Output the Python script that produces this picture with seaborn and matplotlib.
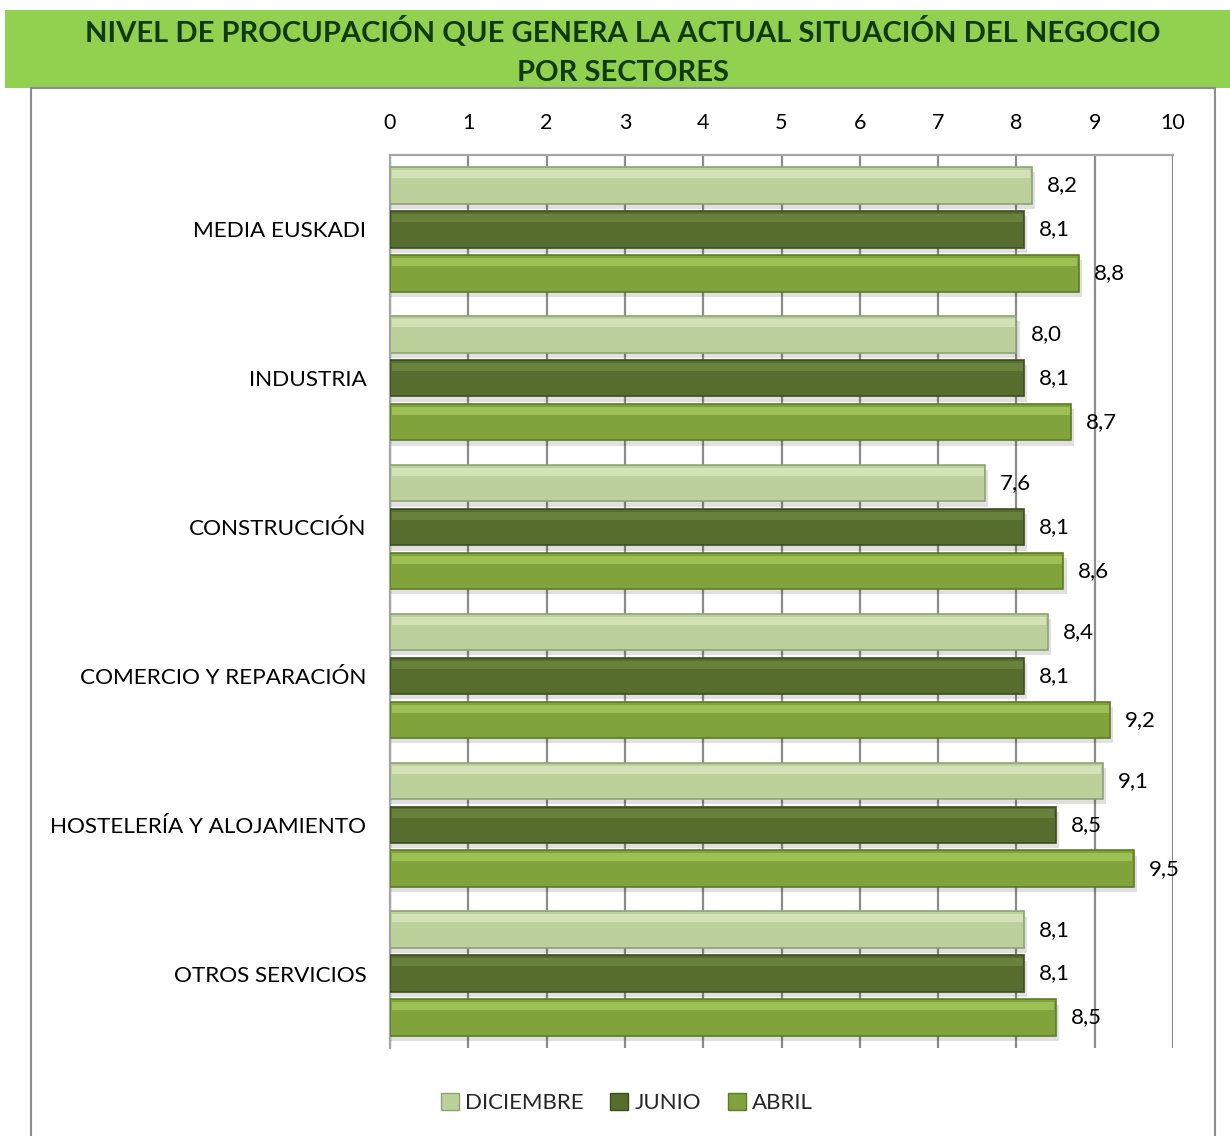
import matplotlib
matplotlib.use("Agg")
import matplotlib.pyplot as plt
import seaborn as sns
import pandas as pd
from matplotlib.patches import Rectangle, Patch

sectores = ["MEDIA EUSKADI", "INDUSTRIA", "CONSTRUCCIÓN", "COMERCIO Y REPARACIÓN",
            "HOSTELERÍA Y ALOJAMIENTO", "OTROS SERVICIOS"]
series = ["DICIEMBRE", "JUNIO", "ABRIL"]
diciembre = [8.2, 8.0, 7.6, 8.4, 9.1, 8.1]
junio = [8.1, 8.1, 8.1, 8.1, 8.5, 8.1]
abril = [8.8, 8.7, 8.6, 9.2, 9.5, 8.5]
colores = ["#BCD09C", "#566D2D", "#80A43B"]
bordes = ["#8FA276", "#3C4E1E", "#5E7C27"]
brillos = ["#E6F2CF", "#7A9448", "#B4D86A"]

rows = []
for s, vals in zip(series, [diciembre, junio, abril]):
    for c, v in zip(sectores, vals):
        rows.append({"sector": c, "serie": s, "valor": v})
df = pd.DataFrame(rows)

sns.set_theme(style="white")
plt.rcParams['font.family'] = ['Lato', 'DejaVu Sans']

W, H = 1230, 1136
fig = plt.figure(figsize=(W / 100, H / 100), dpi=100)
ax = fig.add_axes([390 / W, 1 - 1048 / H, (1173 - 390) / W, (1048 - 155) / H])

sns.barplot(data=df, y="sector", x="valor", hue="serie", order=sectores,
            hue_order=series, palette=colores, orient="h", width=0.886,
            saturation=1, ax=ax, legend=False, zorder=3)

bar_h = 0.245
for cont, edge, hi in zip(ax.containers, bordes, brillos):
    for p in cont.patches:
        cy = p.get_y() + p.get_height() / 2
        p.set_y(cy - bar_h / 2)
        p.set_height(bar_h)
        p.set_edgecolor(edge)
        p.set_linewidth(1.2)
        # bevel highlight
        ax.add_patch(Rectangle((p.get_x() + 0.02, cy - bar_h / 2 + 0.02), p.get_width() - 0.04,
                               bar_h * 0.22, facecolor=hi, alpha=0.55, edgecolor="none",
                               zorder=4))
        # shadow
        ax.add_patch(Rectangle((p.get_x(), cy - bar_h / 2 + 0.035), p.get_width() + 0.04, bar_h,
                               facecolor="#000000", alpha=0.12, edgecolor="none", zorder=2))
        ax.text(p.get_width() + 0.19, cy, f"{p.get_width():.1f}".replace(".", ","),
                va="center", ha="left", fontsize=16, color="#000000", zorder=5)

ax.set_xlim(0, 10)
ax.set_ylim(5.5, -0.5)
ax.set_xticks(range(0, 11))
ax.xaxis.tick_top()
ax.tick_params(axis="x", labelsize=15.5, pad=16, length=0, colors="#000000")
ax.tick_params(axis="y", labelsize=16.2, pad=17, length=0, colors="#000000")
ax.set_xlabel("")
ax.set_ylabel("")
ax.grid(axis="x", color="#8C8C8C", linewidth=1.6, zorder=0)
ax.set_axisbelow(True)
for side in ["bottom", "right"]:
    ax.spines[side].set_visible(False)
for side in ["top", "left"]:
    ax.spines[side].set_color("#A6A6A6")
    ax.spines[side].set_linewidth(1.6)

# title band
fig.patches.append(Rectangle((5 / W, 1 - 88 / H), (W - 5) / W, 78 / H,
                             transform=fig.transFigure, facecolor="#92D050",
                             edgecolor="none", zorder=0))
# border box
fig.patches.append(Rectangle((31 / W, -0.01), (1215 - 31) / W, 1 - 88 / H + 0.01,
                             transform=fig.transFigure, facecolor="none",
                             edgecolor="#8C8C8C", linewidth=1.5, zorder=1))
fig.text(623 / W, 1 - 51 / H,
         "NIVEL DE PROCUPACIÓN QUE GENERA LA ACTUAL SITUACIÓN DEL NEGOCIO\nPOR SECTORES",
         ha="center", va="center", fontsize=21, fontweight="bold", color="#0E3A0E",
         linespacing=1.62)

handles = [Patch(facecolor=c, edgecolor=e) for c, e in zip(colores, bordes)]
fig.legend(handles, series, loc="center", bbox_to_anchor=(627 / W, 1 - 1103 / H),
           ncol=3, frameon=False, fontsize=16, handlelength=0.8, handleheight=0.8,
           handletextpad=0.3, columnspacing=1.2)

fig.savefig("out.png", dpi=100)
